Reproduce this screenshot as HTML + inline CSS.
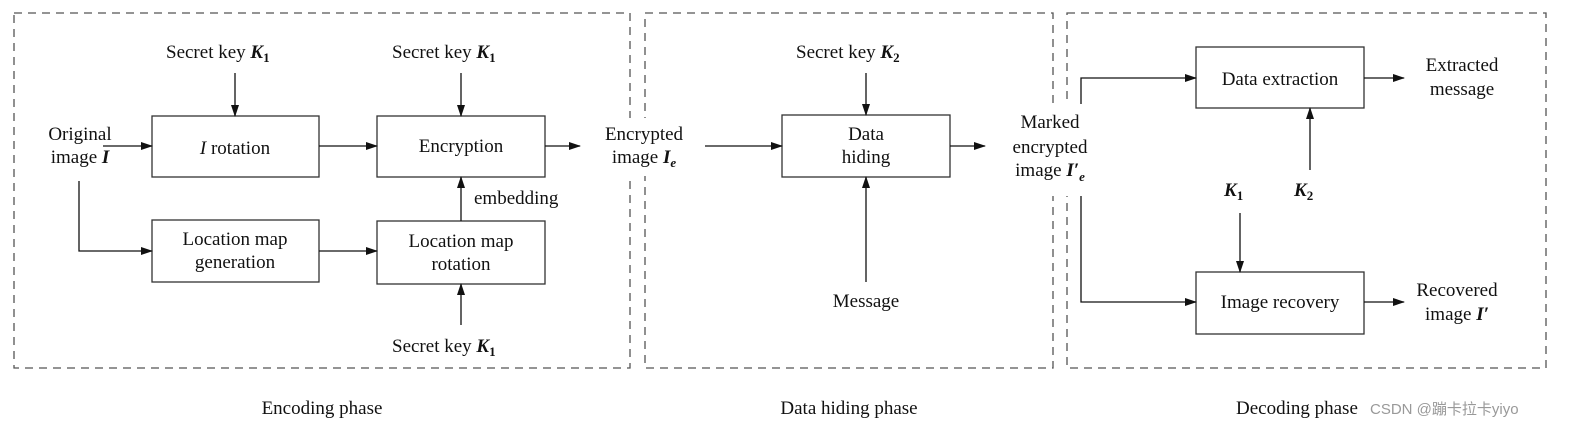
<!DOCTYPE html>
<html><head><meta charset="utf-8"><style>
html,body{margin:0;padding:0;background:#fff;overflow:hidden;}
svg{display:block;}
text{font-family:"Liberation Serif",serif;font-size:19px;fill:#111;}
.b{font-weight:bold;font-style:italic;}
.s{font-size:13px;}
</style></head><body>
<svg width="1581" height="433" viewBox="0 0 1581 433">
<defs><marker id="a" markerWidth="12" markerHeight="8" refX="11" refY="4" orient="auto" markerUnits="userSpaceOnUse"><path d="M0,0 L12,4 L0,8 z" fill="#111"/></marker></defs>
<g fill="none" stroke="#555" stroke-width="1.3" stroke-dasharray="8,6">
<rect x="14" y="13" width="616" height="355"/>
<rect x="645" y="13" width="408" height="355"/>
<rect x="1067" y="13" width="479" height="355"/>
</g>
<rect x="596" y="118" width="96" height="58" fill="#fff"/>
<rect x="1008" y="104" width="86" height="92" fill="#fff"/>
<g fill="#fff" stroke="#333" stroke-width="1.3">
<rect x="152" y="116" width="167" height="61"/>
<rect x="377" y="116" width="168" height="61"/>
<rect x="152" y="220" width="167" height="62"/>
<rect x="377" y="221" width="168" height="63"/>
<rect x="782" y="115" width="168" height="62"/>
<rect x="1196" y="47" width="168" height="61"/>
<rect x="1196" y="272" width="168" height="62"/>
</g>
<g stroke="#111" stroke-width="1.3" fill="none" marker-end="url(#a)">
<line x1="235" y1="73" x2="235" y2="116"/>
<line x1="461" y1="73" x2="461" y2="116"/>
<line x1="103" y1="146" x2="152" y2="146"/>
<line x1="319" y1="146" x2="377" y2="146"/>
<line x1="545" y1="146" x2="580" y2="146"/>
<polyline points="79,181 79,251 152,251"/>
<line x1="319" y1="251" x2="377" y2="251"/>
<line x1="461" y1="221" x2="461" y2="177"/>
<line x1="461" y1="325" x2="461" y2="284"/>
<line x1="705" y1="146" x2="782" y2="146"/>
<line x1="866" y1="73" x2="866" y2="115"/>
<line x1="866" y1="282" x2="866" y2="177"/>
<line x1="950" y1="146" x2="985" y2="146"/>
<polyline points="1081,104 1081,78 1196,78"/>
<polyline points="1081,196 1081,302 1196,302"/>
<line x1="1364" y1="78" x2="1404" y2="78"/>
<line x1="1364" y1="302" x2="1404" y2="302"/>
<line x1="1310" y1="170" x2="1310" y2="108"/>
<line x1="1240" y1="213" x2="1240" y2="272"/>
</g>
<text x="166" y="58">Secret key <tspan class="b">K</tspan><tspan class="s" font-weight="bold" dy="4">1</tspan></text>
<text x="392" y="58">Secret key <tspan class="b">K</tspan><tspan class="s" font-weight="bold" dy="4">1</tspan></text>
<text x="392" y="352">Secret key <tspan class="b">K</tspan><tspan class="s" font-weight="bold" dy="4">1</tspan></text>
<text x="796" y="58">Secret key <tspan class="b">K</tspan><tspan class="s" font-weight="bold" dy="4">2</tspan></text>
<text x="80" y="140" text-anchor="middle">Original</text>
<text x="80" y="163" text-anchor="middle">image <tspan class="b">I</tspan></text>
<text x="235" y="154" text-anchor="middle"><tspan font-style="italic">I</tspan> rotation</text>
<text x="461" y="152" text-anchor="middle">Encryption</text>
<text x="474" y="204">embedding</text>
<text x="235" y="245" text-anchor="middle">Location map</text>
<text x="235" y="268" text-anchor="middle">generation</text>
<text x="461" y="247" text-anchor="middle">Location map</text>
<text x="461" y="270" text-anchor="middle">rotation</text>
<text x="644" y="140" text-anchor="middle">Encrypted</text>
<text x="644" y="163" text-anchor="middle">image <tspan class="b">I</tspan><tspan class="s b" dy="4">e</tspan></text>
<text x="866" y="140" text-anchor="middle">Data</text>
<text x="866" y="163" text-anchor="middle">hiding</text>
<text x="866" y="307" text-anchor="middle">Message</text>
<text x="1050" y="128" text-anchor="middle">Marked</text>
<text x="1050" y="153" text-anchor="middle">encrypted</text>
<text x="1050" y="176" text-anchor="middle">image <tspan class="b">I′</tspan><tspan class="s b" dy="5">e</tspan></text>
<text x="1280" y="85" text-anchor="middle">Data extraction</text>
<text x="1280" y="308" text-anchor="middle">Image recovery</text>
<text x="1462" y="71" text-anchor="middle">Extracted</text>
<text x="1462" y="95" text-anchor="middle">message</text>
<text x="1457" y="296" text-anchor="middle">Recovered</text>
<text x="1457" y="320" text-anchor="middle">image <tspan class="b">I′</tspan></text>
<text x="1224" y="196" class="b">K<tspan class="s" font-style="normal" dy="4">1</tspan></text>
<text x="1294" y="196" class="b">K<tspan class="s" font-style="normal" dy="4">2</tspan></text>
<text x="322" y="414" text-anchor="middle">Encoding phase</text>
<text x="849" y="414" text-anchor="middle">Data hiding phase</text>
<text x="1236" y="414">Decoding phase</text>
<text x="1370" y="414" style="font-family:'Liberation Sans','Noto Sans CJK SC',sans-serif;font-size:15px;fill:#999">CSDN @蹦卡拉卡yiyo</text>
</svg>
</body></html>
